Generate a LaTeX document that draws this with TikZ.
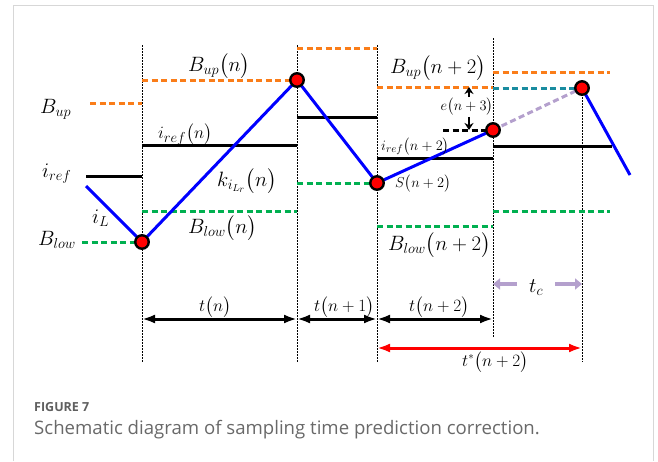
\documentclass[tikz,border=0pt]{standalone}
\usepackage{amsmath}
\usepackage{fontspec}
\setsansfont{Open Sans}
\usetikzlibrary{positioning,arrows.meta}

\definecolor{uporange}{RGB}{250,125,25}
\definecolor{lowgreen}{RGB}{0,176,80}
\definecolor{predteal}{RGB}{25,140,160}
\definecolor{predlav}{RGB}{180,160,205}
\definecolor{framegray}{RGB}{215,215,215}
\definecolor{capgray}{RGB}{105,105,105}

\newcommand{\fsL}{\fontsize{22}{24}\selectfont}
\newcommand{\fsM}{\fontsize{20}{22}\selectfont}
\newcommand{\fsT}{\fontsize{16}{18}\selectfont}
\newcommand{\fsS}{\fontsize{15}{17}\selectfont}

\tikzset{
  sampleline/.style={black, line width=1pt, dash pattern=on 1.5pt off 1.5pt},
  upband/.style={uporange, line width=3pt, dash pattern=on 6pt off 3.5pt},
  lowband/.style={lowgreen, line width=3pt, dash pattern=on 6pt off 3.5pt},
  reflevel/.style={black, line width=3pt},
  current/.style={blue, line width=3pt},
  samplept/.style={circle, draw=black, fill=red, line width=2.4pt, minimum size=13.5pt, inner sep=0pt},
  spanarrow/.style={line width=3pt, {Latex[length=13pt,width=9pt]}-{Latex[length=13pt,width=9pt]}},
  earrow/.style={line width=2.6pt, -{Stealth[length=7pt,width=9pt]}},
  tcarrow/.style={predlav, line width=3.8pt, -{Triangle[length=7pt,width=11pt]}},
  lbl/.style={inner sep=0pt, anchor=base west},
}

\begin{document}
\begin{tikzpicture}[x=1pt, y=-1pt]
  \useasboundingbox (0,0) rectangle (658,461);
  \draw[framegray, line width=1pt] (13,461) -- (13,5) -- (653,5) -- (653,461);

  % sampling instants
  \foreach \n/\x/\top/\bot in {1/142/45/363, 2/297/45/363, 3/377/45/363, 4/493/38/338} {
    \coordinate (top\n) at (\x,\top);
    \coordinate (bot\n) at (\x,\bot);
    \draw[sampleline] (top\n) -- (bot\n);
  }
  \coordinate (p1) at (142,242);
  \coordinate (p2) at (297,80);
  \coordinate (p3) at (377,183);
  \coordinate (p4) at (493,130);
  \coordinate (p5) at (582,88);
  \coordinate (bot5) at (582,362);
  \draw[sampleline] (p5) -- (bot5);

  % bands and references
  \draw[upband] (90,103) -- (142,103);
  \draw[reflevel] (86,176) -- (142,176);
  \draw[lowband] (82,242) -- (p1);
  \draw[upband] (142,80) -- (p2);
  \draw[reflevel] (142,145) -- (297,145);
  \draw[lowband] (142,211) -- (297,211);
  \draw[upband] (297,48) -- (377,48);
  \draw[reflevel] (297,117) -- (377,117);
  \draw[lowband] (297,183) -- (p3);
  \draw[upband] (377,87) -- (493,87);
  \draw[reflevel] (377,158) -- (493,158);
  \draw[lowband] (377,226) -- (493,226);
  \draw[upband] (493,72) -- (610,72);
  \draw[reflevel] (493,146) -- (612,146);
  \draw[lowband] (493,211) -- (610,211);
  \draw[predteal, line width=3pt, dash pattern=on 6pt off 3.5pt] (493,88) -- (p5);
  \draw[black, line width=3pt, dash pattern=on 6pt off 3.5pt] (443,130) -- (p4);
  \draw[predlav, line width=3pt, dash pattern=on 6pt off 3.5pt] (p4) -- (p5);

  % inductor current
  \draw[current] (86,186) -- (p1) -- (p2) -- (p3) -- (p4);
  \draw[current] (p5) -- (630,175);
  \foreach \n in {1,...,5}
    \node[samplept] (d\n) at (p\n) {};

  % labels
  \node[lbl] (bup) at (40,113) {\fsL$B_{up}$};
  \node[lbl] (iref) at (42,177) {\fsL$i_{ref}$};
  \node[lbl] (blow) at (38,245) {\fsL$B_{low}$};
  \node[lbl] (il) at (92,223) {\fsL$i_L$};
  \node[lbl] (bupn) at (188,71) {\fsM$B_{up}\bigl(n\bigr)$};
  \node[lbl] (irefn) at (158,138) {\fontsize{19}{21}\selectfont$i_{ref}\bigl(n\bigr)$};
  \node[lbl] (kn) at (217,186) {\fsM$k_{i_{L_r}}\bigl(n\bigr)$};
  \node[lbl] (blown) at (188,233) {\fsM$B_{low}\bigl(n\bigr)$};
  \node[lbl] (bupn2) at (390,73) {\fsM$B_{up}\bigl(n+2\bigr)$};
  \node[lbl] (irefn2) at (381,150) {\fsS$i_{ref}\bigl(n+2\bigr)$};
  \node[lbl] (sn2) at (395,187) {\fsS$S\bigl(n+2\bigr)$};
  \node[lbl] (blown2) at (388,250) {\fsM$B_{low}\bigl(n+2\bigr)$};
  \node[inner sep=1pt] (en3) at (467,107) {\fsS$e\bigl(n+3\bigr)$};
  \draw[earrow] (en3.north -| 469,0) -- (469,87);
  \draw[earrow] (en3.south -| 469,0) -- (469,130);

  % time spans
  \draw[spanarrow] (top1 |- 0,319) -- (top2 |- 0,319);
  \draw[spanarrow] (top2 |- 0,319) -- (top3 |- 0,319);
  \draw[spanarrow] (top3 |- 0,319) -- (top4 |- 0,319);
  \draw[spanarrow, red] (top3 |- 0,348) -- (bot5 |- 0,348);
  \node[lbl] (tn) at (199,311) {\fsT$t\bigl(n\bigr)$};
  \node[lbl] (tn1) at (314,311) {\fsT$t\bigl(n+1\bigr)$};
  \node[lbl] (tn2) at (409,311) {\fsT$t\bigl(n+2\bigr)$};
  \node[lbl] (tstar) at (462,366) {\fsT$t^{*}\bigl(n+2\bigr)$};
  \node[lbl] (tc) at (529,292) {\fsL$t_c$};
  \draw[tcarrow] (517,284) -- (top4 |- 0,284);
  \draw[tcarrow] (555,284) -- (bot5 |- 0,284);

  % caption
  \node[lbl, font=\sffamily\bfseries\fontsize{12.5}{14}\selectfont, text=capgray!90!black] (fig) at (34,411) {FIGURE 7};
  \node[lbl, font=\sffamily\fontsize{18.6}{20}\selectfont, text=capgray] (cap) at (34,434) {Schematic diagram of sampling time prediction correction.};
\end{tikzpicture}
\end{document}
